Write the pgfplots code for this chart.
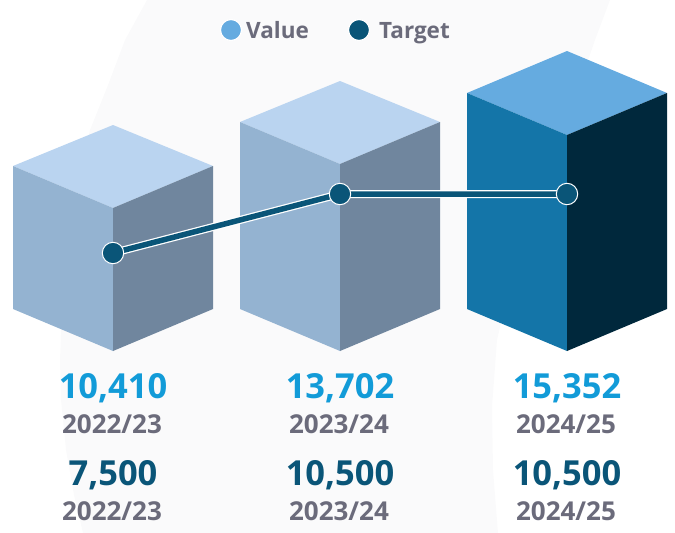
\documentclass[border=0pt]{standalone}
\usepackage{pgfplots}
\pgfplotsset{compat=1.18}
\usepackage{fontspec}
\setmainfont{Open Sans}
\definecolor{bg}{HTML}{FAFAFB}
\definecolor{lt}{HTML}{BAD4F0}
\definecolor{ll}{HTML}{94B3D1}
\definecolor{lr}{HTML}{70869E}
\definecolor{dt}{HTML}{65ABE0}
\definecolor{dl}{HTML}{1475A8}
\definecolor{dr}{HTML}{00283C}
\definecolor{tg}{HTML}{0A5578}
\definecolor{vb}{HTML}{129BD8}
\definecolor{gy}{HTML}{6B6B7B}
\begin{document}
\begin{tikzpicture}
\begin{axis}[
  width=675pt,height=533pt,scale only axis,
  xmin=0,xmax=675,ymin=0,ymax=533,y dir=reverse,
  hide axis,clip=true,
]
% background
\addplot[fill=bg,draw=none] coordinates {(147,0)(125,40)(108,85)(90,130)(78,185)(68,250)(62,310)(60,360)(61,400)(66,450)(74,495)(83,533)(498,533)(493,470)(492,407)(497,340)(510,285)(530,220)(555,150)(583,75)(595,40)(610,0)} -- cycle;
% cube 1
\addplot[fill=lt,draw=none] coordinates {(113,125)(213,166)(113,208)(13,166)} -- cycle;
\addplot[fill=ll,draw=none] coordinates {(13,166)(113,208)(113,351)(13,309)} -- cycle;
\addplot[fill=lr,draw=none] coordinates {(113,208)(213,166)(213,309)(113,351)} -- cycle;
% cube 2
\addplot[fill=lt,draw=none] coordinates {(340,81)(440,122)(340,164)(240,122)} -- cycle;
\addplot[fill=ll,draw=none] coordinates {(240,122)(340,164)(340,351)(240,309)} -- cycle;
\addplot[fill=lr,draw=none] coordinates {(340,164)(440,122)(440,309)(340,351)} -- cycle;
% cube 3
\addplot[fill=dt,draw=none] coordinates {(567,51)(667,93)(567,135)(467,93)} -- cycle;
\addplot[fill=dl,draw=none] coordinates {(467,93)(567,135)(567,351)(467,309)} -- cycle;
\addplot[fill=dr,draw=none] coordinates {(567,135)(667,93)(667,309)(567,351)} -- cycle;
% target line
\addplot[white,line width=8pt] coordinates {(113,253)(340,194)(567,194)};
\addplot[tg,line width=5.5pt,mark=*,mark size=10.7pt,mark options={fill=tg,draw=white,line width=1pt}] coordinates {(113,253)(340,194)(567,194)};
% legend
\addplot[only marks,mark=*,mark size=10.5pt,mark options={fill=dt,draw=white,line width=1.2pt}] coordinates {(231,30)};
\addplot[only marks,mark=*,mark size=10.5pt,mark options={fill=tg,draw=white,line width=1.2pt}] coordinates {(359,30)};
\node[anchor=base west,font=\bfseries\fontsize{22.5}{24}\selectfont,text=gy,inner sep=0pt] at (axis cs:246,38) {Value};
\node[anchor=base west,font=\bfseries\fontsize{22.5}{24}\selectfont,text=gy,inner sep=0pt] at (axis cs:379,38) {Target};
% labels
\node[anchor=base,inner sep=0pt,font=\bfseries\fontsize{34.5}{36}\selectfont,text=vb] at (axis cs:113,398) {10,410};
\node[anchor=base,inner sep=0pt,font=\bfseries\fontsize{34.5}{36}\selectfont,text=vb] at (axis cs:340,398) {13,702};
\node[anchor=base,inner sep=0pt,font=\bfseries\fontsize{34.5}{36}\selectfont,text=vb] at (axis cs:567,398) {15,352};
\node[anchor=base,inner sep=0pt,font=\bfseries\fontsize{26}{28}\selectfont,text=gy] at (axis cs:112,433) {2022/23};
\node[anchor=base,inner sep=0pt,font=\bfseries\fontsize{26}{28}\selectfont,text=gy] at (axis cs:339,433) {2023/24};
\node[anchor=base,inner sep=0pt,font=\bfseries\fontsize{26}{28}\selectfont,text=gy] at (axis cs:566,433) {2024/25};
\node[anchor=base,inner sep=0pt,font=\bfseries\fontsize{34.5}{36}\selectfont,text=tg] at (axis cs:113,485) {7,500};
\node[anchor=base,inner sep=0pt,font=\bfseries\fontsize{34.5}{36}\selectfont,text=tg] at (axis cs:340,485) {10,500};
\node[anchor=base,inner sep=0pt,font=\bfseries\fontsize{34.5}{36}\selectfont,text=tg] at (axis cs:567,485) {10,500};
\node[anchor=base,inner sep=0pt,font=\bfseries\fontsize{26}{28}\selectfont,text=gy] at (axis cs:112,520) {2022/23};
\node[anchor=base,inner sep=0pt,font=\bfseries\fontsize{26}{28}\selectfont,text=gy] at (axis cs:339,520) {2023/24};
\node[anchor=base,inner sep=0pt,font=\bfseries\fontsize{26}{28}\selectfont,text=gy] at (axis cs:566,520) {2024/25};
\end{axis}
\pgfresetboundingbox
\path[use as bounding box] (current axis.south west) rectangle (current axis.north east);
\end{tikzpicture}
\end{document}
